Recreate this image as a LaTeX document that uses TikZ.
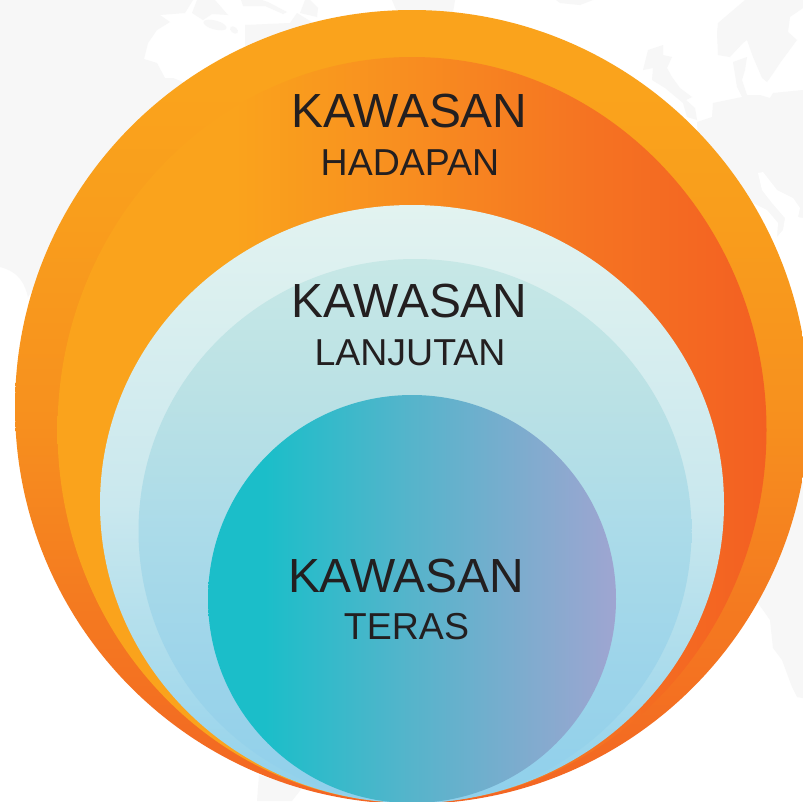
\documentclass[tikz,border=0pt]{standalone}
\usepackage{fontspec}
\setmainfont{Liberation Sans}
\definecolor{land}{HTML}{F7F7F7}
\definecolor{ink}{HTML}{231F20}
\definecolor{oA}{HTML}{F36523}
\definecolor{oB}{HTML}{F47A20}
\definecolor{oC}{HTML}{F7911E}
\definecolor{oD}{HTML}{F99E1C}
\definecolor{oE}{HTML}{FAA31C}
\definecolor{iA}{HTML}{FAA31C}
\definecolor{iB}{HTML}{F88D20}
\definecolor{iC}{HTML}{F57322}
\definecolor{iD}{HTML}{F36022}
\definecolor{pA}{HTML}{8FD0EB}
\definecolor{pB}{HTML}{AEDDEC}
\definecolor{pC}{HTML}{CAE8EE}
\definecolor{pD}{HTML}{E2F3F0}
\definecolor{qB}{HTML}{9AD3EA}
\definecolor{qC}{HTML}{ABDBE9}
\definecolor{qD}{HTML}{BAE1E5}
\definecolor{qE}{HTML}{C7E8E6}
\definecolor{cA}{HTML}{1BBEC9}
\definecolor{cB}{HTML}{56B4CB}
\definecolor{cC}{HTML}{9FA5D1}
\pgfdeclareverticalshading{ringouter}{100bp}{
  color(0bp)=(oA); color(25bp)=(oA); color(37.5bp)=(oB); color(50bp)=(oC); color(62.5bp)=(oD); color(70bp)=(oE); color(100bp)=(oE)}
\pgfdeclarehorizontalshading{ringinner}{100bp}{
  color(0bp)=(iA); color(37.5bp)=(iA); color(50bp)=(iB); color(62.5bp)=(iC); color(75bp)=(iD); color(100bp)=(iD)}
\pgfdeclareverticalshading{paleouter}{100bp}{
  color(0bp)=(pA); color(25bp)=(pA); color(37.5bp)=(pB); color(50bp)=(pC); color(75bp)=(pD); color(100bp)=(pD)}
\pgfdeclareverticalshading{paleinner}{100bp}{
  color(0bp)=(pA); color(25bp)=(pA); color(35bp)=(qB); color(50bp)=(qC); color(62bp)=(qD); color(75bp)=(qE); color(100bp)=(qE)}
\pgfdeclarehorizontalshading{core}{100bp}{
  color(0bp)=(cA); color(32bp)=(cA); color(50bp)=(cB); color(75bp)=(cC); color(100bp)=(cC)}
\tikzset{
  landmass/.style={fill=land,draw=none},
  seawater/.style={fill=white,draw=none},
  disc/.style={draw=none},
  bigword/.style={font=\fontsize{47.9}{47.9}\selectfont,text=ink,inner sep=0pt,anchor=base},
  smallword/.style={font=\fontsize{37.5}{37.5}\selectfont,text=ink,inner sep=0pt,anchor=base}
}
\begin{document}
\begin{tikzpicture}[x=1pt,y=-1pt]
\useasboundingbox (0,0) rectangle (803,801);
\fill[white] (0,0) rectangle (803,801);
\begin{scope}
\clip (0,0) rectangle (803,801);
% pale world map behind the circles
\path[landmass] (0,0) -- (193,0) -- (185,13) -- (160,15) -- (170,22) -- (157,30) -- (148,43) -- (144,59) -- (157,63) -- (165,78) -- (173,78) -- (183,82) -- (200,110) -- (60,250) -- (28,297) .. controls (25,285) and (20,272) .. (0,267) -- cycle;
\path[landmass] (197,0) -- (215,0) -- (228,15) -- (212,14) -- (203,20) -- (192,13) -- cycle;
\path[landmass] (245,25) -- (290,23) -- (297,13) -- (315,24) -- (330,60) -- (245,60) -- cycle;
\path[landmass,rotate around={-15:(215,25)}] (215,25) ellipse (12 and 4.5);
\path[landmass,rotate around={-40:(234,30)}] (234,30) ellipse (4.5 and 3);
\path[landmass] (241,0) -- (243,6) -- (265,6) -- (283,14) -- (287,12) -- (268,2) -- (262,0) -- cycle;
\path[landmass] (305,0) -- (310,0) -- (318,8) -- (317,17) -- (300,13) -- cycle;
\path[landmass] (392,0) -- (455,0) -- (453,12) -- (397,12) -- cycle;
\path[landmass] (556,0) -- (593,0) -- (580,5) -- (560,3) -- cycle;
\path[landmass] (663,45) -- (648,50) -- (643,70) -- (653,68) -- (652,80) -- (665,88) -- (683,103) -- (687,117) -- (697,120) -- (695,108) -- (686,100) -- (692,97) -- (680,88) -- (672,77) -- (667,68) -- (672,57) -- (663,55) -- cycle;
\path[landmass] (745,0) -- (803,0) -- (803,8) -- (790,17) -- (788,32) -- (797,40) -- (780,63) -- (772,75) -- (767,82) -- (762,78) -- (753,57) -- (747,40) -- (743,43) -- (730,57) -- (718,55) -- (717,33) -- (718,23) -- cycle;
\path[landmass] (697,122) -- (712,117) -- (713,103) -- (742,97) -- (737,87) -- (733,62) -- (747,57) -- (745,70) -- (742,80) -- (747,95) -- (760,95) -- (770,98) -- (773,93) -- (803,90) -- (803,218) -- (790,260) -- (700,180) -- cycle;
\path[seawater] (758,173) -- (763,172) -- (777,190) -- (793,198) -- (800,208) -- (798,217) -- (803,218) -- (803,345) -- (785,300) -- (770,240) -- (777,237) -- (783,230) -- (785,218) -- (772,203) -- (762,190) -- cycle;
\path[seawater] (745,205) -- (753,203) -- (767,210) -- (778,223) -- (777,237) -- (765,245) -- cycle;
\path[landmass] (803,480) -- (803,698) -- (797,697) -- (792,687) -- (782,660) -- (773,648) -- (770,620) -- (758,603) -- (735,600) -- cycle;
\path[landmass] (259,775) -- (257,801) -- (292,801) -- (302,788) -- cycle;
% nested circles
\path[disc,shading=ringouter] (412,407) circle (397);
\path[disc,shading=ringinner] (412,430) ellipse (354.5 and 373);
\path[disc,shading=paleouter] (412,504) ellipse (312 and 299);
\path[disc,shading=paleinner] (415,531) ellipse (276.5 and 272);
\path[disc,shading=core] (412,599) circle (204);
\end{scope}
\node[bigword]   (hadapanA) at (409.5,127) {KAWASAN};
\node[smallword] (hadapanB) at (410,175) {HADAPAN};
\node[bigword]   (lanjutanA) at (409.5,317) {KAWASAN};
\node[smallword] (lanjutanB) at (410,365) {LANJUTAN};
\node[bigword]   (terasA) at (406,592) {KAWASAN};
\node[smallword] (terasB) at (406.5,639) {TERAS};
\end{tikzpicture}
\end{document}
